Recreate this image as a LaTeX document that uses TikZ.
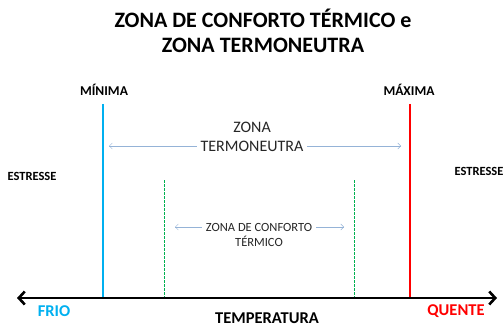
\documentclass[tikz,border=0pt]{standalone}
\usepackage{fontspec}
\setmainfont{Carlito}
\usetikzlibrary{arrows.meta,positioning}
\definecolor{frio}{HTML}{00B0F0}
\definecolor{quente}{HTML}{FF0000}
\definecolor{conforto}{HTML}{00B050}
\definecolor{seta}{HTML}{95B3D7}
\definecolor{texto}{HTML}{262626}
\begin{document}
\begin{tikzpicture}
[x=1pt, y=-1pt,
    every node/.style={inner sep=0pt},
    titulo/.style={font=\fontsize{22}{26}\selectfont\bfseries},
    limite/.style={font=\fontsize{13.5}{16}\selectfont\bfseries},
    estresse/.style={font=\fontsize{12.5}{14}\selectfont\bfseries},
    zona/.style={fill=white, inner xsep=4pt, align=center, text=texto},
    eixo/.style={line width=2.6pt, {Straight Barb[length=6pt,width=13pt]}-{Straight Barb[length=6pt,width=13pt]}},
    faixa/.style={seta, thin, {Straight Barb[length=3pt,width=6pt]}-{Straight Barb[length=3pt,width=6pt]}},
    extremo/.style={font=\fontsize{16.5}{19}\selectfont\bfseries}]
\useasboundingbox (0,0) rectangle (503,326);
% titulo
\node[titulo] (t1) at (263,18) {ZONA DE CONFORTO TÉRMICO e};
\node[titulo] (t2) at (263,45) {ZONA TERMONEUTRA};
% limites
\node[limite] (min) at (104,90) {MÍNIMA};
\node[limite] (max) at (409,90) {MÁXIMA};
\node[estresse] (e1) at (32,176) {ESTRESSE};
\node[estresse] (e2) at (479,171) {ESTRESSE};
% eixo
\coordinate (esq) at (17,298);
\coordinate (dir) at (497,298);
\coordinate (minTopo) at (103,104);
\coordinate (minBase) at (103,298);
\coordinate (maxTopo) at (410,104);
\coordinate (maxBase) at (410,298);
\coordinate (c1Topo) at (164,180);
\coordinate (c1Base) at (164,298);
\coordinate (c2Topo) at (354,180);
\coordinate (c2Base) at (354,298);
\draw[frio, line width=1.2pt] (minTopo) -- (minBase);
\draw[quente, line width=1.2pt] (maxTopo) -- (maxBase);
\draw[conforto, dashed, line width=0.8pt, dash pattern=on 2.5pt off 1.5pt] (c1Topo) -- (c1Base);
\draw[conforto, dashed, line width=0.8pt, dash pattern=on 2.5pt off 1.5pt] (c2Topo) -- (c2Base);
\draw[eixo] (esq) -- (dir);
% zonas
\coordinate (tnEsq) at (109,146);
\coordinate (tnDir) at (401,146);
\draw[faixa] (tnEsq) -- (tnDir);
\node[zona, font=\fontsize{16}{19}\selectfont] (tn) at (252,137) {ZONA\\TERMONEUTRA};
\coordinate (ctEsq) at (175,227);
\coordinate (ctDir) at (344,227);
\draw[faixa] (ctEsq) -- (ctDir);
\node[zona, font=\fontsize{12.5}{15}\selectfont] (ct) at (259,235) {ZONA DE CONFORTO\\TÉRMICO};
% rotulos do eixo
\node[extremo, text=frio] (frio) at (54,311) {FRIO};
\node[extremo, text=quente] (quente) at (456,311) {QUENTE};
\node[extremo] (temp) at (267,318) {TEMPERATURA};
\end{tikzpicture}
\end{document}
